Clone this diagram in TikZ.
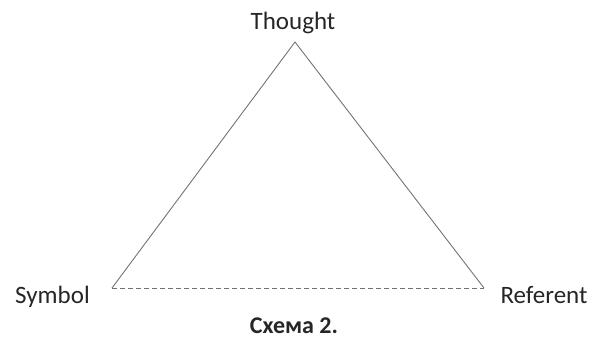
\documentclass[tikz,border=0pt]{standalone}
\usepackage{fontspec}
\setmainfont{Carlito}
\begin{document}
\begin{tikzpicture}[x=1pt,y=-1pt,
  lbl/.style={anchor=base,inner sep=0pt,font=\fontsize{25}{30}\selectfont,text=black!85},
  edge/.style={draw=black!55,line width=0.9pt},
  dashedge/.style={edge,dash pattern=on 5pt off 3pt}]
\useasboundingbox (0,0) rectangle (590,340);
\coordinate (apex) at (295,42);
\coordinate (bl) at (112,288);
\coordinate (br) at (484,288);
\draw[edge] (bl) -- (apex) -- (br);
\draw[dashedge] (bl) -- (br);
\node[lbl] (thought) at (293,30) {Thought};
\node[lbl] (symbol) at (52.5,303) {Symbol};
\node[lbl] (referent) at (544,303) {Referent};
\node[lbl,font=\fontsize{24}{28}\selectfont\bfseries] (caption) at (294,333) {Схема 2.};
\end{tikzpicture}
\end{document}
